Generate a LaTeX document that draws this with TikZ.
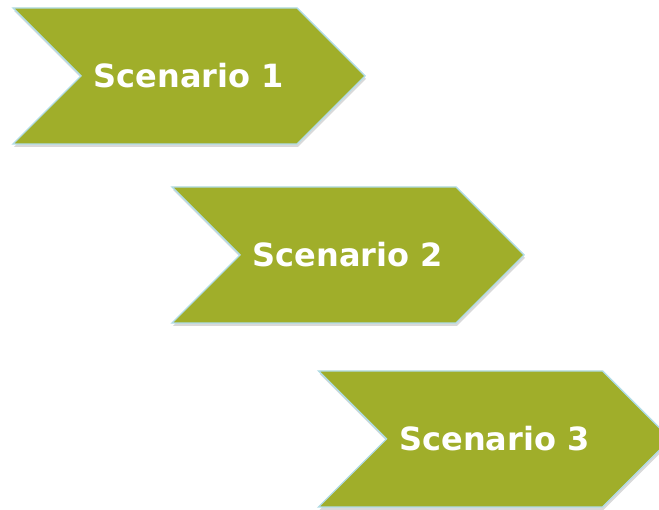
\documentclass[tikz,border=0pt]{standalone}
\usepackage{fontspec}
\setmainfont{DejaVu Sans}
\usetikzlibrary{shapes.symbols,shadows}
\definecolor{chevfill}{HTML}{A0AE2A}
\definecolor{chevline}{HTML}{B0DCE6}
\tikzset{
  scenbox/.style = {signal, signal to = east, signal from = west,
    signal pointer angle = 90, minimum width = 352pt, minimum height = 136pt,
    inner sep = 0pt, fill = chevfill, draw = chevline, line width = 1.4pt,
    text = white, font = \bfseries\fontsize{32}{32}\selectfont,
    drop shadow = {shadow xshift = 1pt, shadow yshift = -3pt, opacity = 0.3}}
}
\begin{document}
\begin{tikzpicture}[x = 1pt, y = 1pt]
  \clip (0, 0) rectangle (659, 510);
  \node [scenbox] (scen1) at (189,   434) {Scenario 1};
  \node [scenbox] (scen2) at (348,   255) {Scenario 2};
  \node [scenbox] (scen3) at (494.5,  71) {Scenario 3};
\end{tikzpicture}
\end{document}
